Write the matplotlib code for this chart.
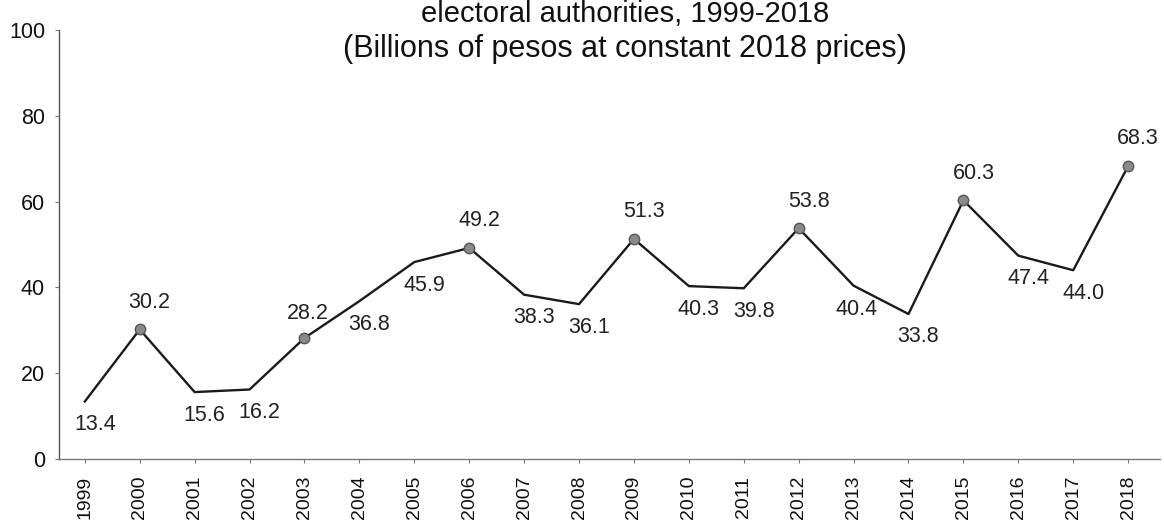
import matplotlib
matplotlib.use('Agg')
import matplotlib.pyplot as plt

plt.rcParams['font.family'] = ['Liberation Sans', 'DejaVu Sans']

years = ['1999', '2000', '2001', '2002', '2003', '2004', '2005', '2006', '2007', '2008',
         '2009', '2010', '2011', '2012', '2013', '2014', '2015', '2016', '2017', '2018']
spending = [13.4, 30.2, 15.6, 16.2, 28.2, 36.8, 45.9, 49.2, 38.3, 36.1,
            51.3, 40.3, 39.8, 53.8, 40.4, 33.8, 60.3, 47.4, 44.0, 68.3]
election_years = ['2000', '2003', '2006', '2009', '2012', '2015', '2018']
y_ticks = [0, 20, 40, 60, 80, 100]

W, H = 1164, 521
fig = plt.figure(figsize=(W / 100, H / 100), dpi=100)
ax = fig.add_axes([59 / W, 1 - 459 / H, (1160 - 59) / W, (459 - 30) / H])

x = list(range(len(years)))
ax.plot(x, spending, color='#1a1a1a', linewidth=1.7, zorder=2)

mx = [i for i, y in enumerate(years) if y in election_years]
my = [spending[i] for i in mx]
ax.plot(mx, my, linestyle='none', marker='o', markersize=7.5,
        markerfacecolor='#8a8a8a', markeredgecolor='#555555', markeredgewidth=1.0, zorder=3)

# value labels: above the marked (election) years, below the others
for i, (yr, v) in enumerate(zip(years, spending)):
    if yr in election_years:
        off = (3, 25) if yr == '2003' else (10, 27)
    else:
        off = (3, -24) if yr == '2013' else (10, -23)
    ax.annotate(f'{v:.1f}', (i, v), xytext=off, textcoords='offset pixels',
                ha='center', va='center', fontsize=15.5, color='#222222')

ax.set_xlim(-0.47, 19.58)
ax.set_ylim(0, 100)
ax.set_yticks(y_ticks)
ax.set_yticklabels([str(t) for t in y_ticks], fontsize=15.5, color='#111111')
ax.set_xticks(x)
ax.set_xticklabels(years, rotation=90, fontsize=14, color='#111111')
ax.tick_params(axis='y', length=3, width=0.8, color='#777777', pad=7)
ax.tick_params(axis='x', length=3, width=0.8, color='#777777', direction='out', pad=9)

for s in ['top', 'right']:
    ax.spines[s].set_visible(False)
ax.spines['left'].set_color('#555555')
ax.spines['left'].set_linewidth(1.0)
ax.spines['bottom'].set_color('#777777')
ax.spines['bottom'].set_linewidth(1.0)

fig.text(625 / W, 1 - 22 / H, 'electoral authorities, 1999-2018', ha='center', va='baseline',
         fontsize=21, color='#111111')
fig.text(625 / W, 1 - 57 / H, '(Billions of pesos at constant 2018 prices)', ha='center',
         va='baseline', fontsize=22, color='#111111')

fig.savefig('out.png', dpi=100)
